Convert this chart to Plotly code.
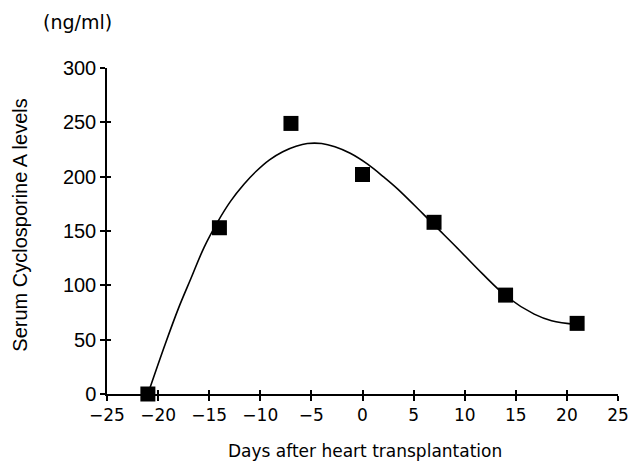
import plotly.graph_objects as go

# measured data points
days = [-21, -14, -7, 0, 7, 14, 21]
levels = [0, 153, 249, 202, 158, 91, 65]

# fitted curve
curve_days = [-21, -19.3, -18.0, -16.8, -15.5, -14.2, -12.9, -11.6, -10.4, -9.1, -7.8, -6.5, -5.4,
              -4.0, -2.7, -1.2, 0.5, 2.1, 3.4, 5.9, 7.5, 9.1, 11.7, 14.2, 16.8, 18.5, 21]
curve_levels = [0, 46, 79, 106, 135, 158, 177.5, 193, 205, 215.5, 223, 228, 230.5,
                230.5, 227.5, 221.5, 211.5, 199.5, 189, 166, 151, 136, 111, 89, 73.5, 67.5, 64]

x_ticks = [-25, -20, -15, -10, -5, 0, 5, 10, 15, 20, 25]
x_tick_text = ["\u221225", "\u221220", "\u221215", "\u221210", "\u22125", "0", "5", "10", "15", "20", "25"]
y_ticks = [0, 50, 100, 150, 200, 250, 300]

# page offset (browser body margin) compensation
OFF = 8
L, T, PW, PH = 107 - OFF, 68 - OFF, 521, 326
W, H = 641 - OFF, 463 - OFF


def px(xabs):
    return (xabs - 107) / PW


def py(yabs):
    return (394 - yabs) / PH


fig = go.Figure()
fig.add_trace(go.Scatter(x=curve_days, y=curve_levels, mode="lines",
                         line=dict(color="black", width=1.6, shape="spline", smoothing=1.0),
                         hoverinfo="skip", showlegend=False, cliponaxis=False))
fig.add_trace(go.Scatter(x=days, y=levels, mode="markers",
                         marker=dict(symbol="square", size=15, color="black"),
                         showlegend=False, cliponaxis=False))
# invisible trace on overlay axes so their inner ticks are drawn
fig.add_trace(go.Scatter(x=[0], y=[0], xaxis="x2", yaxis="y2", mode="markers",
                         marker=dict(opacity=0), hoverinfo="skip", showlegend=False))

fig.update_layout(
    width=W, height=H,
    margin=dict(l=L, r=W - L - PW, t=T, b=H - T - PH),
    paper_bgcolor="white", plot_bgcolor="white",
    xaxis=dict(range=[-25, 25], tickvals=x_ticks, ticktext=x_tick_text,
               showgrid=False, zeroline=False, showline=True, linecolor="black", linewidth=1.5,
               ticks="outside", ticklen=5, tickwidth=1.5, tickcolor="black",
               ticklabeloverflow="allow",
               tickfont=dict(family="DejaVu Sans", size=17, color="black")),
    yaxis=dict(range=[0, 300], tickvals=y_ticks,
               showgrid=False, zeroline=False, showline=True, linecolor="black", linewidth=1.5,
               ticks="outside", ticklen=5, tickwidth=1.5, tickcolor="black",
               tickfont=dict(family="Liberation Sans", size=20, color="black")),
    xaxis2=dict(range=[-25, 25], tickvals=x_ticks, overlaying="x", showticklabels=False,
                showgrid=False, zeroline=False, showline=False,
                ticks="inside", ticklen=4, tickwidth=1.5, tickcolor="black"),
    yaxis2=dict(range=[0, 300], tickvals=y_ticks, overlaying="y", showticklabels=False,
                showgrid=False, zeroline=False, showline=False,
                ticks="inside", ticklen=4, tickwidth=1.5, tickcolor="black"),
    annotations=[
        dict(text="(ng/ml)", xref="paper", yref="paper", x=px(77), y=py(22),
             showarrow=False, xanchor="center", yanchor="middle",
             font=dict(family="DejaVu Sans", size=19, color="black")),
        dict(text="Serum Cyclosporine A levels", xref="paper", yref="paper",
             x=px(18), y=py(225), textangle=-90,
             showarrow=False, xanchor="center", yanchor="middle",
             font=dict(family="Liberation Sans", size=20, color="black")),
        dict(text="Days after heart transplantation", xref="paper", yref="paper",
             x=px(370), y=py(451),
             showarrow=False, xanchor="center", yanchor="middle",
             font=dict(family="DejaVu Sans", size=17, color="black")),
    ],
)

fig.write_html("out.html")
